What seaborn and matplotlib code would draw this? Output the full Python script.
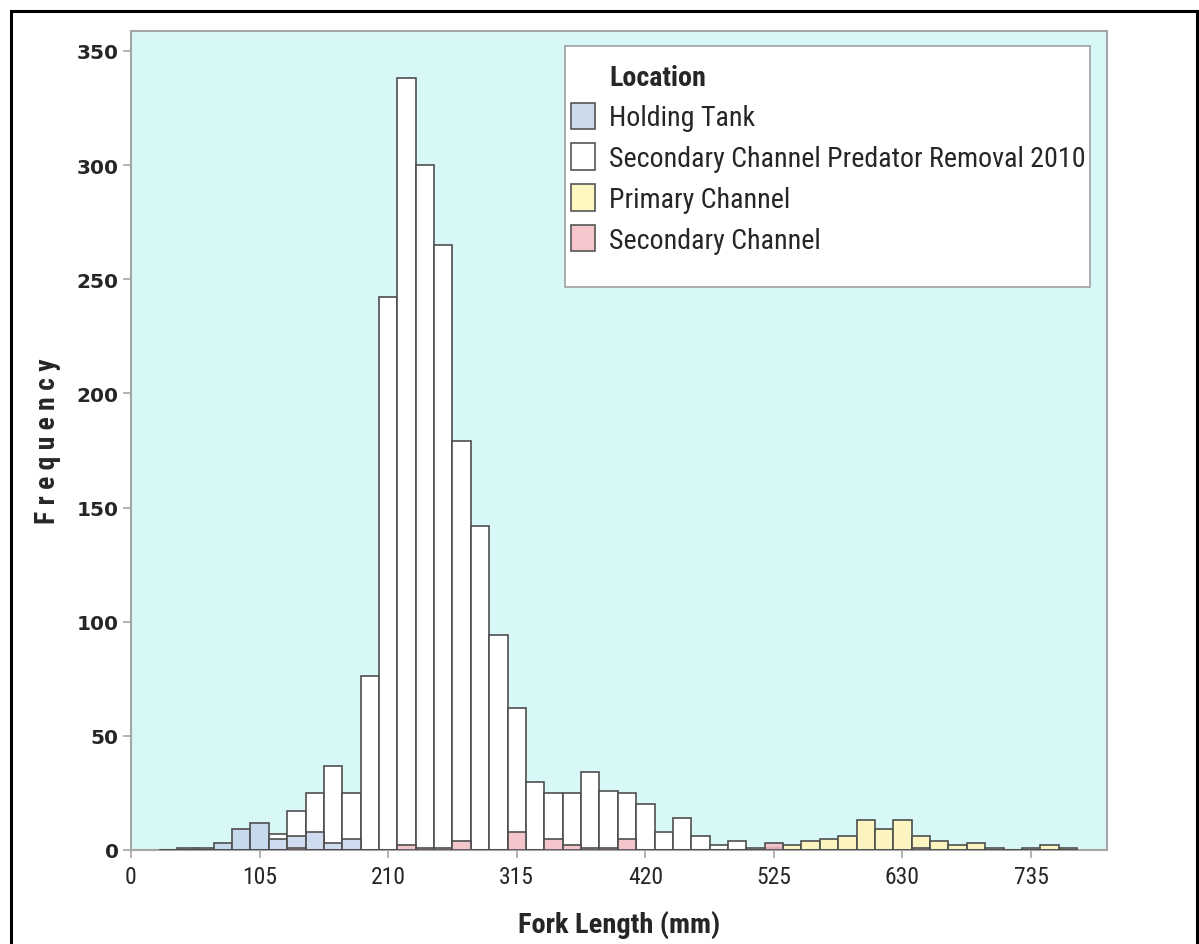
import numpy as np
import pandas as pd
import matplotlib
matplotlib.use("Agg")
import matplotlib.pyplot as plt
import seaborn as sns
from matplotlib import font_manager
from matplotlib.patches import Patch, Rectangle

# Fork-length bins (mm): 15 mm wide, centred on 30, 45, ..., 765
bin_width = 15
bin_centers = np.arange(30, 766, bin_width)
bin_edges = [float(c - bin_width / 2) for c in bin_centers] + [float(bin_centers[-1] + bin_width / 2)]

locations = [
    "Holding Tank",
    "Secondary Channel Predator Removal 2010",
    "Primary Channel",
    "Secondary Channel",
]

# Fish counts per bin, one value per bin centre
holding_tank = [
    0, 1, 1, 3, 9, 12, 5, 6, 8, 3,          # 30-165
    5, 0, 0, 0, 0, 0, 0, 0, 0, 0,           # 180-315
    0, 0, 0, 0, 0, 0, 0, 0, 0, 0,           # 330-465
    0, 0, 0, 0, 0, 0, 0, 0, 0, 0,           # 480-615
    0, 0, 0, 0, 0, 0, 0, 0, 0, 0,           # 630-765
]
predator_removal_2010 = [
    0, 0, 0, 0, 0, 0, 7, 17, 25, 37,                # 30-165
    25, 76, 242, 338, 300, 265, 179, 142, 94, 62,   # 180-315
    30, 25, 25, 34, 26, 25, 20, 8, 14, 6,           # 330-465
    2, 4, 0, 0, 0, 0, 0, 0, 0, 0,                   # 480-615
    0, 0, 0, 0, 0, 0, 0, 0, 0, 0,                   # 630-765
]
primary_channel = [
    0, 0, 0, 0, 0, 0, 0, 0, 0, 0,           # 30-165
    0, 0, 0, 0, 0, 0, 0, 0, 0, 0,           # 180-315
    0, 0, 0, 0, 0, 0, 0, 0, 0, 0,           # 330-465
    0, 0, 1, 1, 2, 4, 5, 6, 13, 9,          # 480-615
    13, 6, 4, 2, 3, 1, 0, 1, 2, 1,          # 630-765
]
secondary_channel = [
    0, 0, 0, 0, 0, 0, 0, 1, 0, 0,           # 30-165
    0, 0, 0, 2, 1, 1, 4, 0, 0, 8,           # 180-315
    0, 5, 2, 1, 1, 5, 0, 0, 0, 0,           # 330-465
    0, 0, 0, 3, 0, 0, 0, 0, 0, 0,           # 480-615
    0, 1, 0, 0, 0, 0, 0, 0, 0, 0,           # 630-765
]

x_ticks = [0, 105, 210, 315, 420, 525, 630, 735]
y_ticks = [0, 50, 100, 150, 200, 250, 300, 350]

df = pd.DataFrame({
    "fork_length": np.tile(bin_centers, len(locations)).astype(float),
    "count": holding_tank + predator_removal_2010 + primary_channel + secondary_channel,
    "location": np.repeat(locations, len(bin_centers)),
})

# fill colour, fill alpha, drawing order
styles = {
    "Secondary Channel Predator Removal 2010": ("#FFFFFF", 1.0, 2),
    "Holding Tank": ("#C0CFEA", 0.75, 3),
    "Primary Channel": ("#FFF4BA", 0.9, 4),
    "Secondary Channel": ("#F3BCC3", 0.85, 5),
}
legend_colors = {
    "Holding Tank": "#CCDAEC",
    "Secondary Channel Predator Removal 2010": "#FFFFFF",
    "Primary Channel": "#FFF7C0",
    "Secondary Channel": "#F5C6CB",
}
edge = "#4F4F4F"

# pick a narrow sans face for the labels when one is installed
ttf = font_manager.fontManager.ttflist
installed = {f.name for f in ttf}
narrow = None
for cand in ["Liberation Sans Narrow", "Arial Narrow", "Roboto Condensed",
             "Noto Sans Condensed", "Open Sans Condensed", "DejaVu Sans Condensed"]:
    if cand in installed:
        narrow = {"family": [cand, "DejaVu Sans"]}
        break
if narrow is None:
    if any(f.name == "DejaVu Sans" and f.stretch in ("condensed", "semi-condensed") for f in ttf):
        narrow = {"family": ["DejaVu Sans"], "stretch": "condensed"}
    else:
        narrow = {"family": ["Liberation Sans", "DejaVu Sans"]}

sns.set_style("ticks")
plt.rcParams["font.family"] = narrow["family"]

fig = plt.figure(figsize=(11.99, 9.45), dpi=100)
renderer = fig.canvas.get_renderer()


def fit_size(text, target_px, weight="normal", base=20.0):
    probe = fig.text(0, 0, text, fontsize=base, fontweight=weight, **narrow)
    width = probe.get_window_extent(renderer).width
    probe.remove()
    return base * target_px / width


legend_size = fit_size("Secondary Channel Predator Removal 2010", 476)
xtick_size = fit_size("735", 35)
xlabel_size = fit_size("Fork Length (mm)", 202, "bold")
ylabel_size = fit_size("F r e q u e n c y", 165, "bold")

ax = fig.add_axes([131 / 1199, 1 - 851 / 945, 976 / 1199, 819 / 945])
ax.set_facecolor("#D8F7F7")

for loc in sorted(locations, key=lambda k: styles[k][2]):
    face, alpha, z = styles[loc]
    sns.histplot(
        data=df[df["location"] == loc], x="fork_length", weights="count",
        bins=bin_edges, color=face, alpha=alpha, edgecolor=edge,
        linewidth=1.2, ax=ax, zorder=z,
    )

ax.set_xlim(0, 797)
ax.set_ylim(0, 358.7)
ax.set_xticks(x_ticks)
ax.set_yticks(y_ticks)

for side in ["left", "right", "top", "bottom"]:
    ax.spines[side].set_color("#A6A6A6")
    ax.spines[side].set_linewidth(1.5)
ax.tick_params(axis="both", direction="out", length=6, width=1.2, color="#A6A6A6")
ax.tick_params(axis="x", pad=5)
ax.tick_params(axis="y", pad=3)
for lab in ax.get_xticklabels():
    lab.set_fontfamily(narrow["family"])
    if "stretch" in narrow:
        lab.set_fontstretch(narrow["stretch"])
    lab.set_fontsize(xtick_size)
for lab in ax.get_yticklabels():
    lab.set_fontfamily("DejaVu Sans")
    lab.set_fontsize(14.5)
    lab.set_fontweight("semibold")

ax.set_xlabel("Fork Length (mm)", fontsize=xlabel_size, fontweight="bold", **narrow)
ax.set_ylabel("F r e q u e n c y", fontsize=ylabel_size, fontweight="bold", **narrow)
ax.xaxis.set_label_coords(0.5, (851 - 925) / 819)
ax.yaxis.set_label_coords((48 - 131) / 976, 0.5)
ax.xaxis.label.set_va("center")
ax.yaxis.label.set_va("center")

# legend box, then the entries placed inside it
ax.add_patch(Rectangle(((565 - 131) / 976, (851 - 288) / 819), (1090 - 565) / 976, (288 - 47) / 819,
                       transform=ax.transAxes, facecolor="white", edgecolor="#A0A0A0",
                       linewidth=1.2, zorder=9))

handles = [Patch(facecolor="none", edgecolor="none", label="Location")]
for loc in locations:
    handles.append(Patch(facecolor=legend_colors[loc], edgecolor="#555555", linewidth=1.2, label=loc))
prop = {"size": legend_size, **narrow}
row_px = 42.0
handle_px = 30.0
font_px = legend_size * 100 / 72
leg = ax.legend(
    handles=handles, loc="upper left",
    bbox_to_anchor=((571 - 131) / 976, (851 - (78 - handle_px / 2)) / 819),
    borderaxespad=0, borderpad=0, frameon=False, prop=prop,
    handlelength=24 / font_px, handleheight=handle_px / font_px,
    handletextpad=14 / font_px, labelspacing=(row_px - handle_px) / font_px,
)
leg.set_zorder(10)
leg.get_texts()[0].set_fontweight("bold")

# outer frame around the whole graphic
fig.patches.append(Rectangle((11 / 1199, -0.02), (1197 - 11) / 1199, 1 - 12 / 945 + 0.02,
                             transform=fig.transFigure, fill=False,
                             edgecolor="black", linewidth=2.2))

fig.savefig("out.png", dpi=100)
